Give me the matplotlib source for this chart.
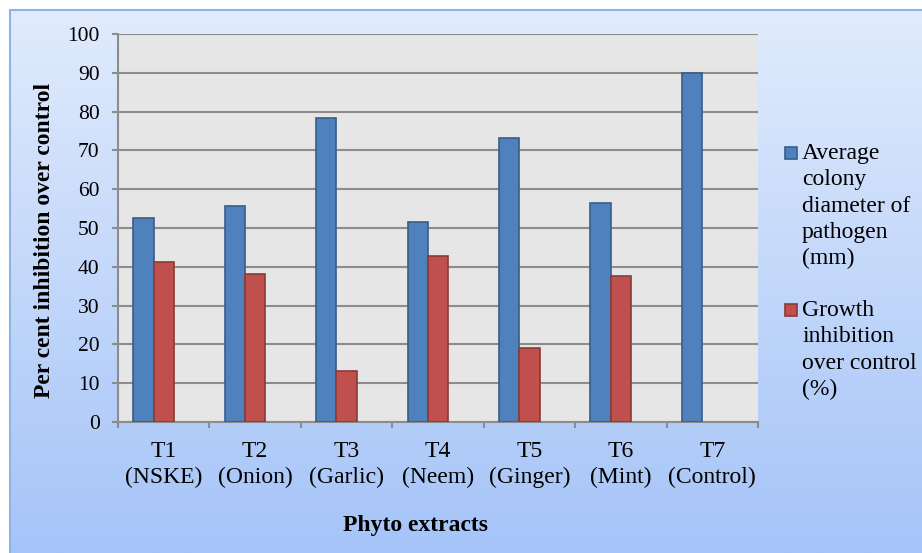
import numpy as np
import matplotlib
matplotlib.use('Agg')
import matplotlib.pyplot as plt
from matplotlib.patches import Rectangle

categories = ['T1\n(NSKE)', 'T2\n(Onion)', 'T3\n(Garlic)', 'T4\n(Neem)',
              'T5\n(Ginger)', 'T6\n(Mint)', 'T7\n(Control)']
colony_diameter = [52.7, 55.7, 78.3, 51.6, 73.2, 56.4, 90.0]
growth_inhibition = [41.3, 38.1, 13.1, 42.7, 19.0, 37.6, 0.0]
labels = ['Average\ncolony\ndiameter of\npathogen\n(mm)',
          'Growth\ninhibition\nover control\n(%)']

plt.rcParams['font.family'] = ['Liberation Serif', 'DejaVu Serif']

W, H = 922, 553
fig = plt.figure(figsize=(W / 100, H / 100), dpi=100)
fig.patch.set_facecolor('white')

# gradient background of the chart frame
bg = fig.add_axes([10 / W, 0, 1 - 10 / W, 1 - 10 / H], zorder=0)
grad = np.linspace(0, 1, 256).reshape(-1, 1)
c_top = np.array([0xe1, 0xeb, 0xfc]) / 255
c_bot = np.array([0xa5, 0xc4, 0xf8]) / 255
img = c_top + (c_bot - c_top) * grad[:, :, None] * np.ones((1, 1, 3))
bg.imshow(img, aspect='auto', extent=[0, 1, 0, 1])
bg.set_axis_off()
fig.patches.append(Rectangle((10 / W, -0.01), 1, 1 - 10 / H + 0.01,
                             transform=fig.transFigure, fill=False,
                             edgecolor='#8eb4e3', linewidth=1.5, zorder=1))

ax = fig.add_axes([118 / W, (H - 422) / H, 640 / W, 388 / H], zorder=2)
ax.set_facecolor('#e6e6e6')

x = np.arange(len(categories))
w = 0.222
# excel left a slot for a third (empty) series, so groups sit left of centre
b1 = ax.bar(x - w, colony_diameter, w, color='#4f81bd', edgecolor='#385d8a',
            linewidth=1.2, zorder=3)
b2 = ax.bar(x, growth_inhibition, w, color='#c0504d', edgecolor='#8c3836',
            linewidth=1.2, zorder=3)
for p in list(b1) + list(b2):
    if p.get_height() == 0:
        p.set_linewidth(0)

ax.set_xlim(-0.5, len(categories) - 0.5)
ax.set_ylim(0, 100)
ax.set_yticks(range(0, 101, 10))
ax.yaxis.grid(True, color='#8c8c8c', linewidth=1.5, zorder=1)
ax.set_axisbelow(True)

ax.set_xticks(np.arange(-0.5, len(categories), 1))
ax.set_xticklabels([])
ax.set_xticks(x, minor=True)
ax.set_xticklabels(categories, minor=True, fontsize=17, linespacing=1.3)
ax.tick_params(axis='x', which='minor', length=0, pad=14)
ax.tick_params(axis='x', which='major', length=4.3, width=1.5, color='#8c8c8c')
ax.tick_params(axis='y', length=4.3, width=1.5, color='#8c8c8c', labelsize=15.5, pad=9)

for s in ['top', 'right']:
    ax.spines[s].set_visible(False)
for s in ['left', 'bottom']:
    ax.spines[s].set_color('#8c8c8c')
    ax.spines[s].set_linewidth(1.5)

fig.text(45 / W, 1 - 240 / H, 'Per cent inhibition over control', fontsize=17,
         fontweight='bold', rotation=90, ha='center', va='center')
fig.text(415 / W, 1 - 526 / H, 'Phyto extracts', fontsize=17, fontweight='bold',
         ha='center', va='center')

# legend drawn by hand: square aligned with the first text line
leg_colors = [('#4f81bd', '#385d8a'), ('#c0504d', '#8c3836')]
leg_tops = [143, 300]
for lab, (fc, ec), top in zip(labels, leg_colors, leg_tops):
    fig.patches.append(Rectangle((785 / W, 1 - (top + 16) / H), 12 / W, 12 / H,
                                 transform=fig.transFigure, facecolor=fc,
                                 edgecolor=ec, linewidth=1.2, zorder=3))
    fig.text(802 / W, 1 - top / H, lab, fontsize=17, ha='left', va='top',
             linespacing=1.33)

fig.savefig('out.png', dpi=100)
